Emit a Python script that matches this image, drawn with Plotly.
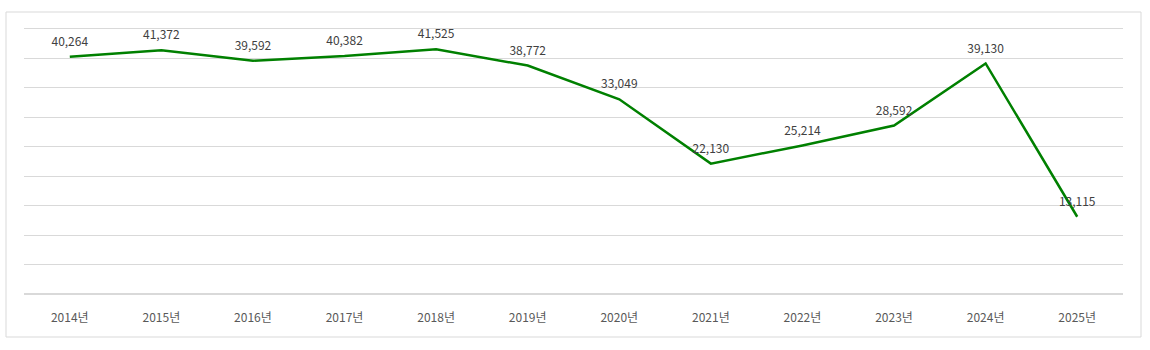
import plotly.graph_objects as go

years = ["2014년", "2015년", "2016년", "2017년", "2018년", "2019년",
         "2020년", "2021년", "2022년", "2023년", "2024년", "2025년"]
values = [40264, 41372, 39592, 40382, 41525, 38772,
          33049, 22130, 25214, 28592, 39130, 13115]

FONT = "Malgun Gothic, Noto Sans CJK KR, sans-serif"

fig = go.Figure()
fig.add_trace(go.Scatter(
    x=years, y=values, mode="lines+markers+text",
    line=dict(color="#008000", width=2.5),
    marker=dict(size=11, color="rgba(0,0,0,0)"),
    text=[f"{v:,}" for v in values],
    textposition="top center",
    textfont=dict(family=FONT, size=12, color="#404040"),
    cliponaxis=False,
    hoverinfo="x+y",
))

fig.update_layout(
    width=1150, height=350,
    margin=dict(l=24, r=27, t=23, b=56, autoexpand=False),
    paper_bgcolor="white", plot_bgcolor="white",
    showlegend=False,
    font=dict(family=FONT, size=12, color="#595959"),
)
fig.update_xaxes(
    type="category", range=[-0.5, len(years) - 0.5],
    showgrid=False, showline=False, zeroline=False,
    ticks="", ticklabelstandoff=15,
    tickfont=dict(family=FONT, size=12, color="#595959"),
)
fig.update_yaxes(
    range=[0, 46000], tickvals=list(range(0, 45001, 5000)), showticklabels=False,
    gridcolor="#d9d9d9", gridwidth=1, zeroline=True, zerolinecolor="#d9d9d9",
    showline=False,
)
fig.add_shape(type="rect", xref="paper", yref="paper",
              x0=(6 - 24) / 1099, x1=(1141 - 24) / 1099,
              y0=(294 - 337) / 271, y1=(294 - 12) / 271,
              line=dict(color="#d9d9d9", width=1), layer="below")

fig.write_html("out.html")
